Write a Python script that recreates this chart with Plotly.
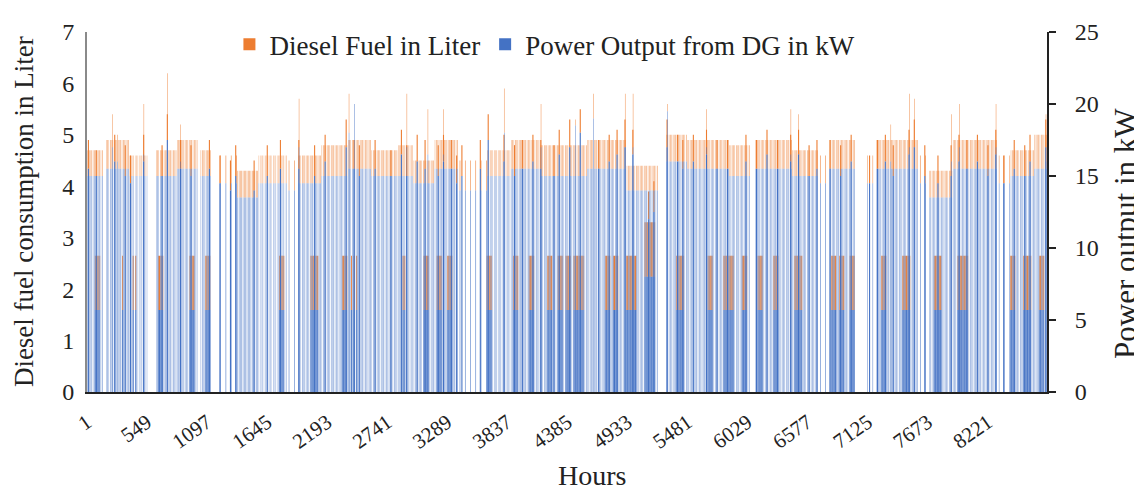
import plotly.graph_objects as go

# ---- data -----------------------------------------------------------
# Stretches of days with the same main-load running: first/last day
# (0-based), hours per day on, every n-th day, kW and litres at that load
seg_first = [0, 7, 16, 26, 34, 43, 50, 57, 65, 76, 80, 89, 99, 108, 118, 124, 132, 141,
             152, 161, 172, 190, 205, 220, 228, 244, 254, 268, 278, 282, 296, 300, 316,
             320, 329, 346, 351, 360]
seg_last = [5, 15, 22, 33, 41, 46, 56, 64, 75, 79, 88, 98, 107, 117, 123, 131, 140, 151,
            160, 171, 189, 204, 216, 227, 243, 251, 267, 277, 281, 291, 299, 315, 319,
            328, 345, 350, 359, 364]
seg_hours = [7, 7, 5, 7, 7, 7, 5, 8, 5, 5, 7, 7, 7, 7, 6, 7, 7, 5,
             6, 7, 7, 7, 7, 7, 7, 7, 7, 7, 5, 7, 4, 7, 5,
             7, 7, 4, 7, 7]
seg_step = [1, 1, 1, 1, 1, 1, 2, 1, 1, 2, 1, 1, 1, 1, 1, 1, 1, 2,
            1, 1, 1, 1, 1, 1, 1, 1, 1, 1, 2, 1, 2, 1, 2,
            1, 1, 2, 1, 1]
seg_kw = [15, 15.5, 15, 15, 15.5, 15, 14.5, 13.5, 14.5, 14, 14.5, 15, 15.5, 15, 15, 14.5, 15.5, 14,
          15, 15.5, 15, 15.5, 14, 16, 15.5, 15, 15.5, 15, 14.5, 15.5, 14.5, 15.5, 14.5,
          13.5, 15.5, 14.5, 15, 15.5]
seg_fuel = [4.7, 4.9, 4.6, 4.7, 4.9, 4.7, 4.6, 4.3, 4.6, 4.5, 4.6, 4.8, 4.9, 4.7, 4.8, 4.5, 4.9, 4.5,
            4.7, 4.9, 4.8, 4.9, 4.4, 5.0, 4.9, 4.8, 4.9, 4.7, 4.6, 4.9, 4.6, 4.9, 4.6,
            4.3, 4.9, 4.6, 4.7, 5.0]

# days with a long daytime run at main load (the darker single lines)
long_day = [0, 3, 10, 14, 16, 21, 28, 30, 35, 39,
            46, 50, 54, 56, 63, 68, 73, 80, 86, 90,
            98, 101, 103, 109, 115, 119, 121, 125, 128, 133,
            135, 138, 140, 142, 149, 152, 158, 162, 165, 169,
            172, 177, 179, 183, 187, 194, 198, 201, 204, 207,
            213, 215, 220, 224, 226, 230, 235, 239, 243, 250,
            254, 258, 262, 267, 270, 274, 277, 282, 286, 290,
            297, 300, 303, 306, 312, 314, 318, 323, 328, 331,
            334, 338, 342, 345, 348, 352, 356, 358, 364]
long_kw = [15.5, 15, 16, 15, 14.5, 16, 15, 17.5, 15.5, 15,
           15.5, 14.5, 14, 15, 14, 15, 15.5, 15.5, 15, 16,
           17, 15.5, 15, 15.5, 15, 16.5, 15, 16, 15.5, 15,
           16, 15.5, 14.5, 15, 15.5, 17.5, 16, 15, 15.5, 16,
           15.5, 15, 16.5, 17, 18, 15.5, 16, 16.5, 17, 16.5,
           12, 12.5, 17, 16, 15.5, 16, 16.5, 15.5, 15.5, 16,
           15.5, 16.5, 15.5, 16, 16.5, 15, 15.5, 15.5, 15, 16,
           14.5, 15.5, 16, 15, 16.5, 17, 15, 14.5, 15, 16,
           15.5, 16, 15, 16.5, 14.5, 15.5, 15, 16, 17]
long_fuel = [4.9, 4.7, 5.0, 4.8, 4.6, 5.0, 4.8, 5.4, 4.9, 4.8,
             4.9, 4.6, 4.5, 4.8, 4.5, 4.8, 4.9, 4.9, 4.8, 5.0,
             5.3, 4.9, 4.8, 4.9, 4.7, 5.1, 4.8, 5.0, 4.9, 4.8,
             5.0, 4.9, 4.6, 4.8, 4.9, 5.4, 5.0, 4.8, 4.9, 5.0,
             4.9, 4.8, 5.1, 5.3, 5.5, 4.9, 5.0, 5.1, 5.3, 5.1,
             3.9, 4.1, 5.3, 5.0, 4.9, 5.0, 5.1, 4.9, 4.9, 5.0,
             4.9, 5.1, 4.9, 5.0, 5.1, 4.8, 4.9, 4.9, 4.8, 5.0,
             4.6, 4.9, 5.0, 4.8, 5.1, 5.3, 4.8, 4.6, 4.8, 5.0,
             4.9, 5.0, 4.8, 5.1, 4.6, 4.9, 4.8, 5.0, 5.3]

# days with long low-load running (dark bands at the bottom);
# full = 1 -> runs all remaining hours of the day, 0 -> 8 hours only
lo_first = [3, 13, 17, 27, 39, 45, 73, 85, 97, 100, 120, 128, 133, 137, 152, 162, 168, 175,
            179, 182, 185, 187, 197, 200, 205, 212, 224, 236, 242, 249, 255, 261, 269,
            283, 286, 290, 302, 310, 322, 331, 351, 356, 362]
lo_last = [4, 13, 18, 28, 40, 46, 74, 87, 98, 102, 120, 129, 134, 138, 153, 163, 169, 176,
           180, 183, 186, 188, 198, 201, 208, 215, 226, 237, 245, 250, 256, 262, 271,
           284, 287, 291, 303, 312, 324, 334, 352, 358, 363]
lo_full = [1, 0, 0, 1, 1, 1, 1, 1, 1, 0, 1, 1, 1, 1, 1, 1, 1, 1,
           1, 1, 1, 1, 1, 1, 1, 1, 1, 1, 1, 1, 1, 1, 1,
           1, 1, 1, 1, 1, 1, 1, 1, 1, 1]
lo_kw = [5.7] * 25 + [8.0] + [5.7] * 17
lo_fuel = [2.65] * 25 + [3.3] + [2.65] * 17

# short peaks
spike_day = [9, 11, 21, 30, 35, 80, 99, 101, 121, 129, 135, 158, 172, 185, 192, 204, 207,
             220, 235, 267, 270, 305, 312, 314, 328, 331, 345, 364]
spike_kw = [17, 16, 16.5, 17.5, 16, 17, 18, 20, 17, 16.5, 16.5, 18, 17, 18.5, 19, 17, 17,
            19.5, 17, 16.5, 16.5, 16, 17, 17, 16, 17, 17, 16]
spike_fuel = [5.4, 5.0, 5.6, 6.2, 5.2, 5.7, 5.8, 5.6, 5.8, 5.5, 5.5, 5.9, 5.6, 5.3, 5.8, 5.8, 5.8,
              5.6, 5.5, 5.5, 5.4, 5.2, 5.8, 5.7, 5.4, 5.6, 5.6, 5.4]

tick_hours = [1, 549, 1097, 1645, 2193, 2741, 3289, 3837, 4385, 4933, 5481, 6029, 6577,
              7125, 7673, 8221]
N_HOURS = 8760
Y_MAX, Y2_MAX = 7, 25

# ---- hourly runs -> bars --------------------------------------------
xs, ws, kws, fuels = [], [], [], []


def add_run(first_hour, n, kw, fuel):
    # n consecutive hours from first_hour (1-based hour of the year)
    if n <= 0:
        return
    xs.append(first_hour + (n - 1) / 2)
    ws.append(n)
    kws.append(kw)
    fuels.append(fuel)


day_blocks = {}   # day -> list of (hour of day, length) already running
for a, b, h, s, kw, f in zip(seg_first, seg_last, seg_hours, seg_step, seg_kw, seg_fuel):
    for d in range(a, b + 1, s):
        if s == 1:
            m = h // 2
            blocks = [(7, m), (19, h - m)]      # morning and evening
        else:
            blocks = [(18, h)]
        day_blocks[d] = blocks
        for start, n in blocks:
            add_run(24 * d + start, n, kw, f)

for a, b, full, kw, f in zip(lo_first, lo_last, lo_full, lo_kw, lo_fuel):
    for d in range(a, b + 1):
        if not full:
            add_run(24 * d + 10, 8, kw, f)
            continue
        busy = sorted(day_blocks.get(d, []))
        hour = 1
        for start, n in busy:
            add_run(24 * d + hour, start - hour, kw, f)
            hour = start + n
        add_run(24 * d + hour, 25 - hour, kw, f)

for d, kw, f in zip(long_day, long_kw, long_fuel):
    add_run(24 * d + 9, 10, kw, f)

for d, kw, f in zip(spike_day, spike_kw, spike_fuel):
    add_run(24 * d + 14, 4, kw, f)

# the blue bar of the same hour sits in front of the orange one, so only
# the part of the fuel bar above the power bar is drawn
fuel_base = [k * Y_MAX / Y2_MAX for k in kws]
fuel_len = [f - b for f, b in zip(fuels, fuel_base)]

ORANGE = "rgba(237,125,49,0.999)"
BLUE = "rgba(68,114,196,0.999)"
FONT = "Liberation Serif"

fig = go.Figure()
fig.add_trace(go.Bar(
    x=xs, y=fuel_len, base=fuel_base, width=ws, name="Diesel Fuel in Liter",
    customdata=fuels, hovertemplate="%{customdata} L<extra></extra>",
    marker=dict(color=ORANGE, line=dict(width=0)), yaxis="y",
))
fig.add_trace(go.Bar(
    x=xs, y=kws, width=ws, name="Power Output from DG in kW",
    marker=dict(color=BLUE, line=dict(width=0)), yaxis="y2",
))

fig.update_layout(
    width=1134, height=487,
    margin=dict(l=79, r=95, t=17, b=103),
    paper_bgcolor="white", plot_bgcolor="white",
    barmode="overlay", bargap=0.01,
    font=dict(family=FONT, size=22, color="#222"),
    showlegend=True,
    legend=dict(orientation="h", x=0.477, xanchor="center", y=0.965, yanchor="middle",
                font=dict(size=27), bgcolor="rgba(0,0,0,0)", itemwidth=30),
    xaxis=dict(
        range=[0.5, N_HOURS + 0.5], tickvals=tick_hours, ticktext=[str(t) for t in tick_hours],
        tickangle=-35, showgrid=False, zeroline=False, showline=True,
        linecolor="#222", linewidth=2, ticks="", tickfont=dict(size=21),
        ticklabelstandoff=8,
    ),
    yaxis=dict(
        range=[0, Y_MAX], dtick=1, showgrid=False, zeroline=False, showline=True,
        linecolor="#8a8a8a", linewidth=2, ticks="", ticklabelstandoff=6,
        tickfont=dict(size=24),
    ),
    yaxis2=dict(
        range=[0, Y2_MAX], dtick=5, overlaying="y", side="right", showgrid=False,
        zeroline=False, showline=True, linecolor="#222", linewidth=2,
        ticks="outside", ticklen=7, tickwidth=2, tickcolor="#222", ticklabelstandoff=14,
        tickfont=dict(size=24),
    ),
    annotations=[
        dict(text="Diesel fuel consumption in Liter", textangle=-90, xref="paper", yref="paper",
             x=-0.0655, y=0.5, xanchor="center", yanchor="middle", showarrow=False,
             font=dict(size=27)),
        dict(text="Power output in kW", textangle=-90, xref="paper", yref="paper",
             x=1.0823, y=0.439, xanchor="center", yanchor="middle", showarrow=False,
             font=dict(size=31)),
        dict(text="Hours", xref="paper", yref="paper", x=0.526, y=-0.232,
             xanchor="center", yanchor="middle", showarrow=False, font=dict(size=28)),
    ],
)

fig.write_html("out.html")
